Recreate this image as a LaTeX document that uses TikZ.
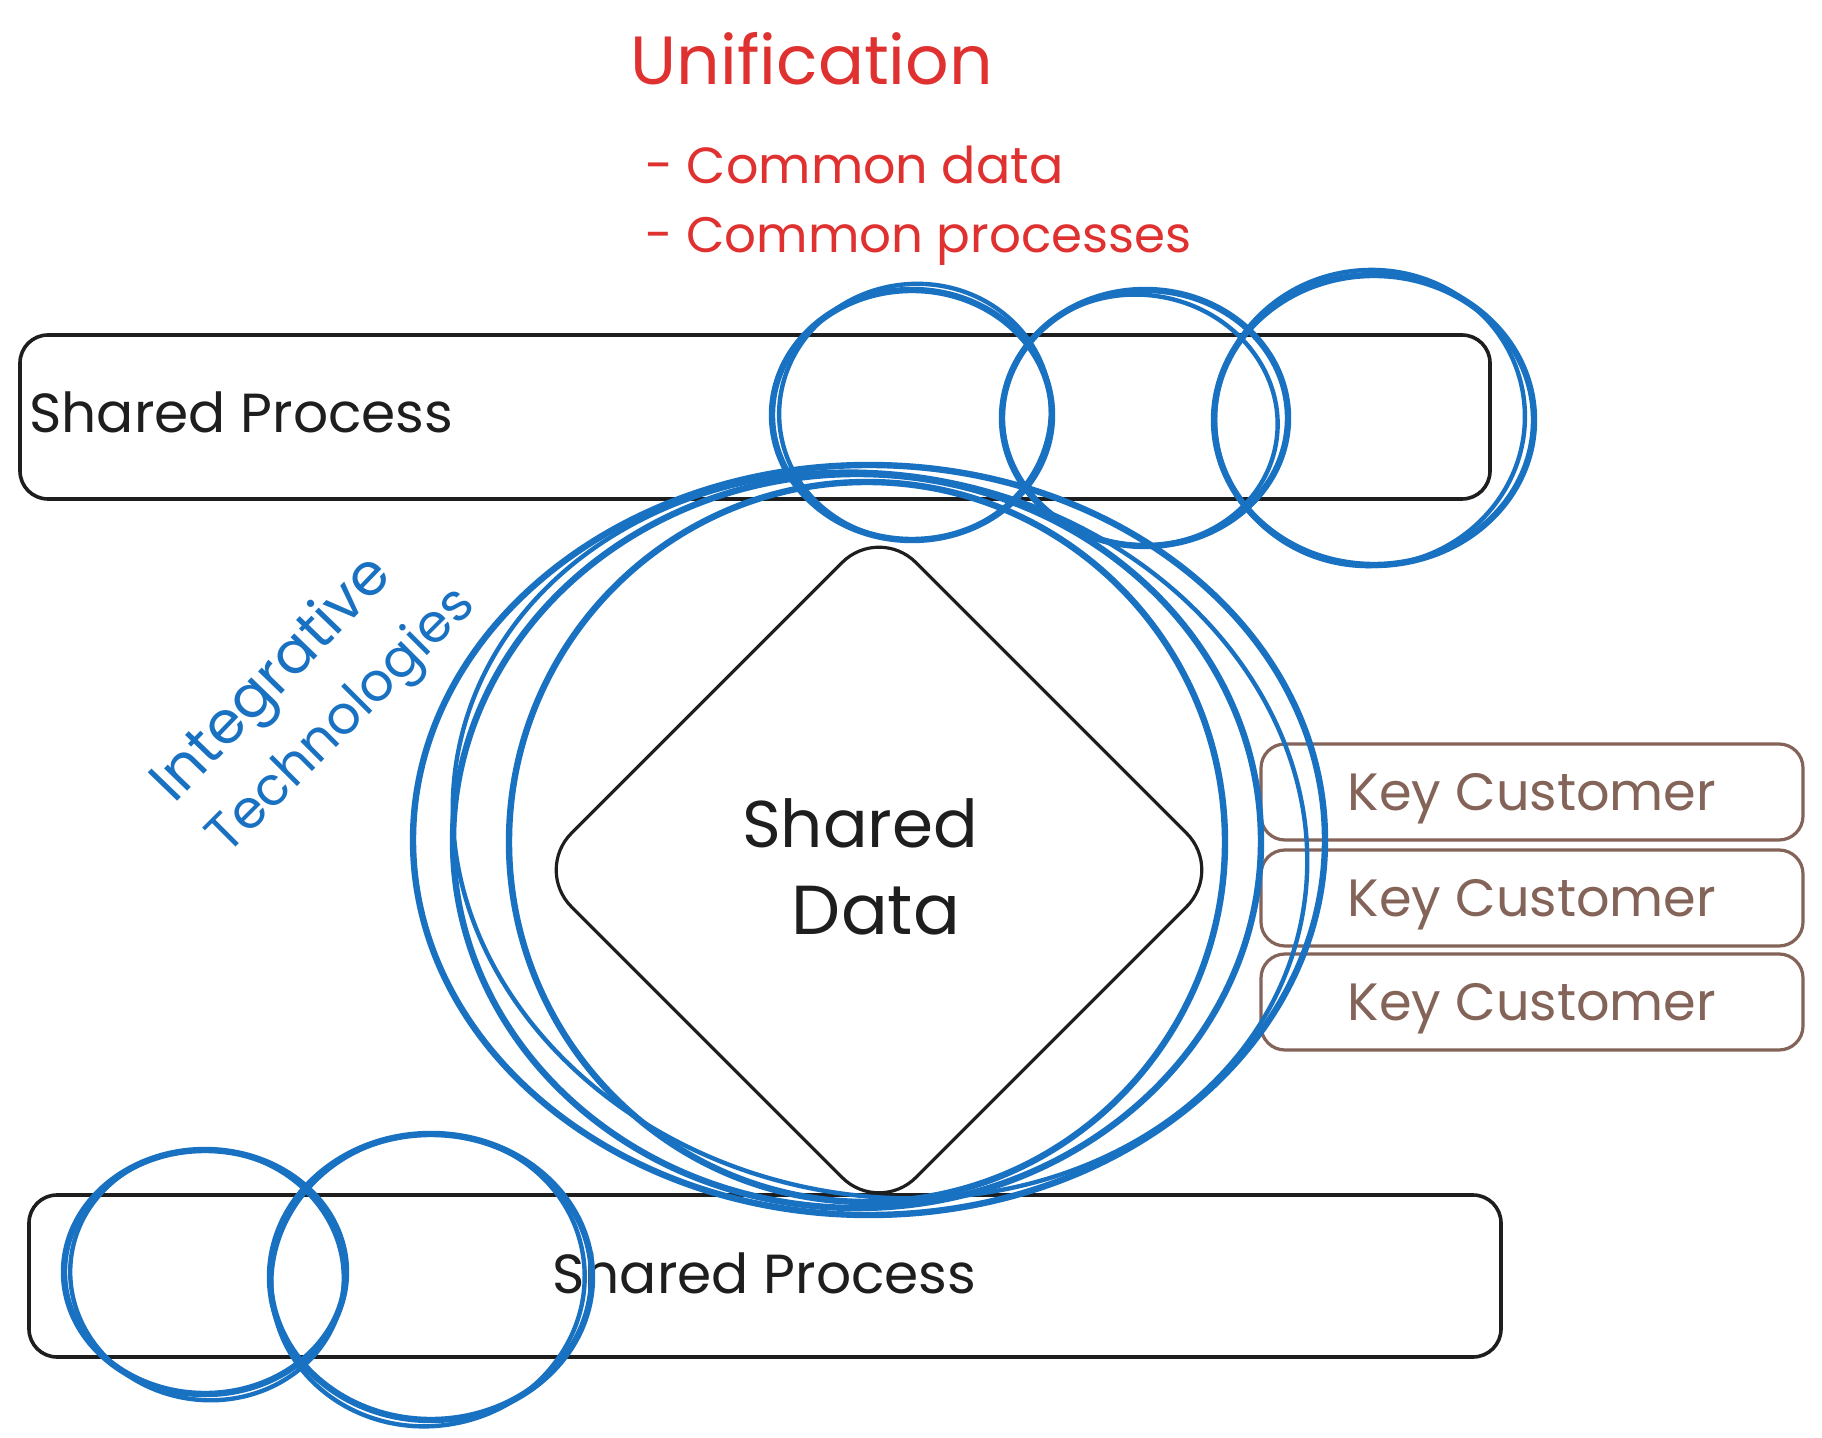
\documentclass[tikz,border=0pt]{standalone}
\usepackage{fontspec}
\setmainfont{Poppins}
\usetikzlibrary{shapes.geometric}
\definecolor{exred}{HTML}{E03131}
\definecolor{exblue}{HTML}{1971C2}
\definecolor{exbrown}{HTML}{846358}
\definecolor{exblack}{HTML}{1E1E1E}
\newcommand{\fitto}[2]{\resizebox{#1}{!}{#2}}
\begin{document}
\begin{tikzpicture}[x=0.5pt,y=-0.5pt,
  procbox/.style={draw=exblack,line width=1.8pt,rounded corners=14pt,inner sep=0pt},
  custbox/.style={draw=exbrown,line width=1.6pt,rounded corners=12pt,minimum width=271pt,minimum height=48pt,inner sep=0pt},
  ring/.style={draw=exblue,line width=3.2pt,ellipse,inner sep=0pt},
  ringb/.style={draw=exblue,line width=2.2pt,ellipse,inner sep=0pt},
  datashape/.style={draw=exblack,line width=1.6pt,diamond,rounded corners=26pt,inner sep=0pt,minimum width=345pt,minimum height=345pt},
  redtxt/.style={text=exred,inner sep=0pt},
  blacktxt/.style={text=exblack,inner sep=0pt},
  browntxt/.style={text=exbrown,inner sep=0pt},
  bluetxt/.style={text=exblue,inner sep=0pt}]
\useasboundingbox (0,0) rectangle (1822,1438);
\fill[white] (0,0) rectangle (1822,1438);

% titles
\node[redtxt,anchor=base] (uni) at (812,85) {\fitto{181pt}{Unification}};
\node[redtxt,anchor=base west] (cd) at (645,184) {\fitto{209pt}{- Common data}};
\node[redtxt,anchor=base west] (cp) at (645,253) {\fitto{273pt}{- Common processes}};

% process bars
\node[procbox,minimum width=735pt,minimum height=82pt] (topbar) at (755,417) {};
\node[procbox,minimum width=736pt,minimum height=81pt] (botbar) at (765,1276) {};
\node[blacktxt,anchor=base west] (toptxt) at (29,433) {\fitto{212pt}{Shared Process}};
\node[blacktxt,anchor=base west] (bottxt) at (552,1293) {\fitto{212pt}{Shared Process}};

% shared data
\node[datashape] (data) at (879,870) {};
\node[blacktxt,anchor=base] (sh) at (860,848) {\fitto{118pt}{Shared}};
\node[blacktxt,anchor=base] (da) at (876,935) {\fitto{84pt}{Data}};

% key customers
\node[custbox] (kc1) at (1532,792) {};
\node[custbox] (kc2) at (1532,898) {};
\node[custbox] (kc3) at (1532,1002) {};
\node[browntxt,anchor=base] (kt1) at (1532,811) {\fitto{184pt}{Key Customer}};
\node[browntxt,anchor=base] (kt2) at (1532,916) {\fitto{184pt}{Key Customer}};
\node[browntxt,anchor=base] (kt3) at (1532,1020) {\fitto{184pt}{Key Customer}};

% big integrative loops
\node[ring,minimum width=456pt,minimum height=375pt] (big1) at (869,840) {};
\node[ring,minimum width=404pt,minimum height=367pt] (big2) at (857,841) {};
\node[ring,minimum width=358pt,minimum height=360pt] (big3) at (867,842) {};
\node[ringb,minimum width=430pt,minimum height=360pt,rotate=-12] (big4) at (880,835) {};

% top rings
\node[ring,minimum width=140pt,minimum height=125pt] (t1) at (912,415) {};
\node[ringb,minimum width=136pt,minimum height=128pt,rotate=8] (t1b) at (915,412) {};
\node[ring,minimum width=143pt,minimum height=128pt] (t2) at (1145,418) {};
\node[ringb,minimum width=138pt,minimum height=125pt,rotate=-10] (t2b) at (1140,420) {};
\node[ring,minimum width=160pt,minimum height=145pt] (t3) at (1374,420) {};
\node[ringb,minimum width=155pt,minimum height=148pt,rotate=6] (t3b) at (1370,418) {};

% bottom rings
\node[ring,minimum width=141pt,minimum height=122pt] (b1) at (205,1272) {};
\node[ringb,minimum width=137pt,minimum height=125pt,rotate=-8] (b1b) at (207,1275) {};
\node[ring,minimum width=161pt,minimum height=143pt] (b2) at (431,1277) {};
\node[ringb,minimum width=157pt,minimum height=146pt,rotate=10] (b2b) at (428,1280) {};

% integrative technologies label
\node[bluetxt,rotate=46] (it1) at (274,681) {\fitto{158pt}{Integrative}};
\node[bluetxt,rotate=45] (it2) at (343,722) {\fitto{176pt}{Technologies}};
\end{tikzpicture}
\end{document}
